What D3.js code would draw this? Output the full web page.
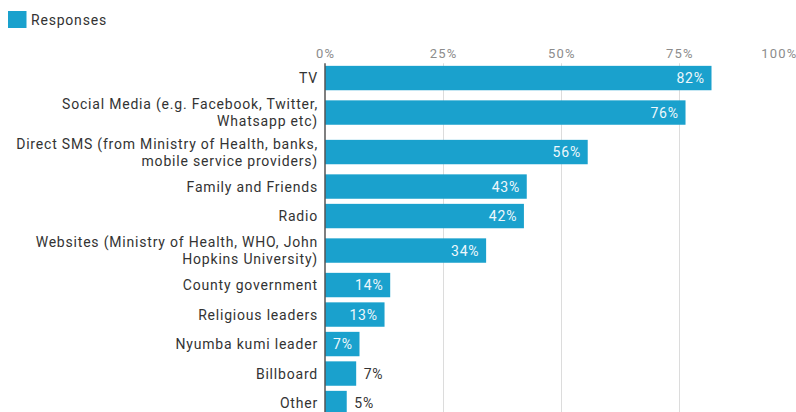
<!DOCTYPE html>
<html>
<head>
<meta charset="utf-8">
<script src="https://cdn.jsdelivr.net/npm/d3@7"></script>
<style>
  body { margin: 0; background: #fff; }
  svg { display: block; font-family: Roboto, "Noto Sans", sans-serif; }
</style>
</head>
<body>
<svg id="chart" width="796" height="412"></svg>
<script>
// Information sources (multi-line labels split with "\n")
const categories = [
  "TV",
  "Social Media (e.g. Facebook, Twitter,\nWhatsapp etc)",
  "Direct SMS (from Ministry of Health, banks,\nmobile service providers)",
  "Family and Friends",
  "Radio",
  "Websites (Ministry of Health, WHO, John\nHopkins University)",
  "County government",
  "Religious leaders",
  "Nyumba kumi leader",
  "Billboard",
  "Other"
];
const responses = [0.818, 0.763, 0.556, 0.427, 0.421, 0.341, 0.138, 0.126, 0.073, 0.066, 0.046];
const seriesName = "Responses";
const tickValues = [0, 0.25, 0.5, 0.75, 1];

const W = 796, H = 412;
const color = "#1aa1cd";
const plotLeft = 325, plotRight = 797.5, plotTop = 63.3;
const rowBase = 29.5, extraLine = 10, barH = 24.4, lineH = 17;

const svg = d3.select("#chart");
const fmt = d3.format(".0%");

const x = d3.scaleLinear().domain([0, 1]).range([plotLeft, plotRight]);

// Rows grow with the number of label lines; bars sit in the middle of each row
const lines = categories.map(c => c.split("\n"));
const rowH = lines.map(l => rowBase + extraLine * (l.length - 1));
const rowTop = [plotTop, ...Array.from(d3.cumsum(rowH)).map(v => plotTop + v)].slice(0, categories.length);
const y = d3.scaleOrdinal().domain(categories).range(rowTop.map((t, i) => t + rowH[i] / 2));

const data = categories.map((c, i) => ({ cat: c, lines: lines[i], value: responses[i] }));

// Legend
const legend = svg.append("g");
legend.append("rect").attr("x", 8).attr("y", 11).attr("width", 18.5).attr("height", 17).attr("fill", color);
legend.append("text").attr("x", 31).attr("y", 24.5).attr("font-size", 14)
  .attr("letter-spacing", 0.8).attr("fill", "#333").text(seriesName);

// Grid lines and tick labels
const grid = svg.append("g");
grid.selectAll("line").data(tickValues.filter(v => v > 0)).join("line")
  .attr("x1", d => Math.round(x(d)) + 0.5).attr("x2", d => Math.round(x(d)) + 0.5)
  .attr("y1", plotTop).attr("y2", H)
  .attr("stroke", "#dcdcdc").attr("stroke-width", 1);

grid.selectAll("text").data(tickValues).join("text")
  .attr("x", d => d === 1 ? x(d) : x(d) + 0.6)
  .attr("y", 58)
  .attr("text-anchor", d => d === 1 ? "end" : "middle")
  .attr("font-size", 13).attr("letter-spacing", 1.2).attr("fill", "#8c8c8c")
  .text(d => fmt(d));

// Bars
svg.append("g").selectAll("rect").data(data).join("rect")
  .attr("x", x(0))
  .attr("y", d => y(d.cat) - barH / 2)
  .attr("width", d => x(d.value) - x(0))
  .attr("height", barH)
  .attr("fill", color);

// Category labels
const catG = svg.append("g");
data.forEach(d => {
  const t = catG.append("text")
    .attr("text-anchor", "end")
    .attr("font-size", 14).attr("letter-spacing", 0.8).attr("fill", "#333");
  const n = d.lines.length;
  d.lines.forEach((ln, j) => {
    t.append("tspan")
      .attr("x", plotLeft - 7)
      .attr("y", y(d.cat) + (j - (n - 1) / 2) * lineH + 5)
      .text(ln);
  });
});

// Value labels: inside the bar when they fit, otherwise just past its end
const pad = 7.5;
const valG = svg.append("g");
data.forEach(d => {
  const t = valG.append("text")
    .attr("y", y(d.cat) + 5)
    .attr("font-size", 14).attr("letter-spacing", 0.8)
    .text(fmt(d.value));
  const tw = t.node().getComputedTextLength();
  const bw = x(d.value) - x(0);
  if (tw + 12 <= bw) {
    t.attr("x", x(d.value) - pad + 0.8).attr("text-anchor", "end").attr("fill", "#eef8fc");
  } else {
    t.attr("x", x(d.value) + pad).attr("text-anchor", "start").attr("fill", "#333");
  }
});

// Zero axis line
svg.append("line")
  .attr("x1", plotLeft).attr("x2", plotLeft)
  .attr("y1", plotTop).attr("y2", H)
  .attr("stroke", "#555").attr("stroke-width", 1.5);
</script>
</body>
</html>
